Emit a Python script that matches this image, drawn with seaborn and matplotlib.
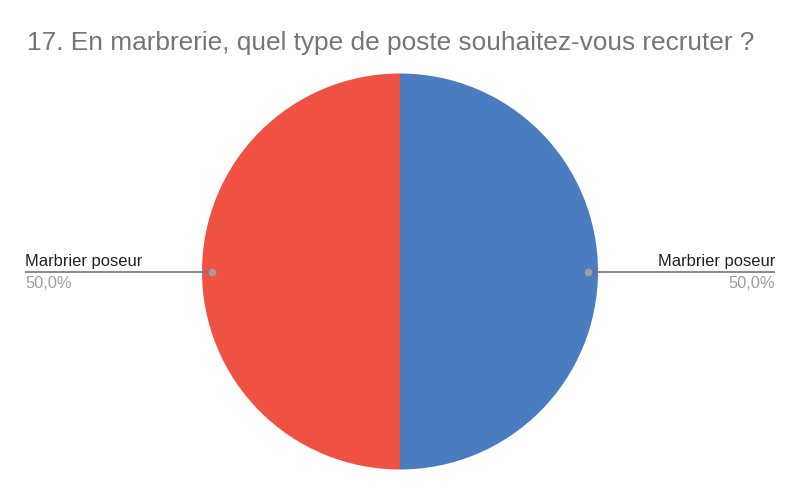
import matplotlib
matplotlib.use("Agg")
import matplotlib.pyplot as plt
import seaborn as sns

title = "17. En marbrerie, quel type de poste souhaitez-vous recruter ?"
categories = ["Marbrier poseur", "Marbrier poseur"]
values = [50.0, 50.0]
slice_colors = ["#4a7cc0", "#ef5242"]

sns.set_theme(style="white")
plt.rcParams["font.family"] = ["Liberation Sans", "DejaVu Sans"]

W, H = 800, 495
cx, cy, r = 400, 271.5, 198

fig = plt.figure(figsize=(W / 100, H / 100), dpi=100)
ax = fig.add_axes([0, 0, 1, 1])
ax.pie(values, colors=slice_colors, startangle=90, counterclock=False,
       radius=1, center=(0, 0), wedgeprops={"linewidth": 0})
# map pixels to data units so the pie sits where it does in the reference
ax.set_xlim(-cx / r, (W - cx) / r)
ax.set_ylim(-(H - cy) / r, cy / r)
ax.set_aspect("equal", adjustable="datalim")
ax.axis("off")


def px(x, y):
    return (x - cx) / r, (cy - y) / r


total = sum(values)
# right label (first slice), left label (second slice)
sides = [(588, 775, "right"), (212, 25, "left")]
for (dot_x, end_x, ha), name, v in zip(sides, categories, values):
    x0, y0 = px(dot_x, 271.5)
    x1, _ = px(end_x, 271.5)
    ax.plot([x0, x1], [y0, y0], color="#757575", lw=1.2, solid_capstyle="butt")
    ax.plot([x0], [y0], "o", color="#9e9e9e", ms=4.5)
    tx, ty = px(end_x, 266)
    ax.text(tx, ty, name, ha=ha, va="baseline", fontsize=11.9, color="#222222")
    tx, ty = px(end_x, 288)
    pct = f"{v / total * 100:.1f}%".replace(".", ",")
    ax.text(tx, ty, pct, ha=ha, va="baseline", fontsize=11.9, color="#9e9e9e")

fig.text(27 / W, 1 - 50 / H, title, ha="left", va="baseline",
         fontsize=18.9, color="#757575")

fig.savefig("out.png", dpi=100, facecolor="white")
